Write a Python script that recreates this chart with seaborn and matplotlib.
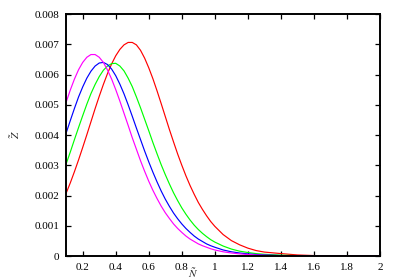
"""Four peaked curves, gnuplot-style frame."""
import numpy as np
import pandas as pd
import matplotlib
matplotlib.use("Agg")
import matplotlib.pyplot as plt
import seaborn as sns

x_vals = [0.100, 0.125, 0.150, 0.175, 0.200, 0.225, 0.250, 0.275, 0.300,
          0.325, 0.350, 0.375, 0.400, 0.425, 0.450, 0.475, 0.500, 0.525,
          0.550, 0.575, 0.600, 0.625, 0.650, 0.675, 0.700, 0.725, 0.750,
          0.775, 0.800, 0.825, 0.850, 0.875, 0.900, 0.925, 0.950, 0.975,
          1.000, 1.05, 1.10, 1.15, 1.20, 1.25, 1.30,
          1.4, 1.5, 1.6, 1.7, 1.8, 1.9, 2.0]

# curve heights, in units of 1e-3
red = [2.08, 2.42, 2.79, 3.18, 3.59, 4.01, 4.44, 4.87, 5.28, 5.67,
       6.03, 6.35, 6.62, 6.83, 6.98, 7.06, 7.06, 6.98, 6.80, 6.54,
       6.22, 5.86, 5.46, 5.04, 4.61, 4.18, 3.77, 3.37, 3.00, 2.65,
       2.33, 2.04, 1.77, 1.54, 1.33, 1.14, 0.98,
       0.71, 0.51, 0.37, 0.26, 0.18, 0.13,
       0.08, 0.035, 0.015, 0.006, 0.002, 0.001, 0.0]
green = [3.05, 3.44, 3.85, 4.25, 4.64, 5.02, 5.37, 5.67, 5.93, 6.14,
         6.28, 6.36, 6.37, 6.28, 6.12, 5.88, 5.60, 5.26, 4.90, 4.52,
         4.14, 3.75, 3.38, 3.02, 2.69, 2.38, 2.09, 1.83, 1.59, 1.38,
         1.19, 1.02, 0.875, 0.75, 0.64, 0.54, 0.46,
         0.33, 0.23, 0.16, 0.115, 0.08, 0.056,
         0.027, 0.012, 0.005, 0.002, 0.001, 0.0, 0.0]
blue = [4.07, 4.48, 4.88, 5.26, 5.59, 5.88, 6.11, 6.28, 6.38, 6.40,
        6.33, 6.18, 5.96, 5.68, 5.36, 5.00, 4.62, 4.23, 3.85, 3.47,
        3.11, 2.77, 2.45, 2.15, 1.88, 1.64, 1.42, 1.23, 1.06, 0.91,
        0.78, 0.66, 0.56, 0.48, 0.40, 0.34, 0.29,
        0.20, 0.14, 0.10, 0.07, 0.05, 0.034,
        0.016, 0.007, 0.003, 0.001, 0.0, 0.0, 0.0]
magenta = [5.09, 5.49, 5.85, 6.16, 6.40, 6.57, 6.66, 6.66, 6.57, 6.40,
           6.15, 5.85, 5.50, 5.12, 4.72, 4.32, 3.91, 3.53, 3.15, 2.80,
           2.47, 2.17, 1.90, 1.65, 1.43, 1.24, 1.06, 0.91, 0.78, 0.66,
           0.56, 0.48, 0.40, 0.34, 0.29, 0.24, 0.20,
           0.14, 0.10, 0.07, 0.049, 0.034, 0.023,
           0.01, 0.004, 0.002, 0.001, 0.0, 0.0, 0.0]

x_ticks = [0.2, 0.4, 0.6, 0.8, 1.0, 1.2, 1.4, 1.6, 1.8, 2.0]
y_ticks = [0, 0.001, 0.002, 0.003, 0.004, 0.005, 0.006, 0.007, 0.008]

series = {"red": red, "green": green, "blue": blue, "magenta": magenta}
colors = {"red": "#ff0000", "green": "#00ff00", "blue": "#0000ff",
          "magenta": "#ff00ff"}

df = pd.concat(
    [pd.DataFrame({"N": x_vals, "Z": np.array(v) * 1e-3, "curve": k})
     for k, v in series.items()],
    ignore_index=True,
)

sns.set_theme(style="ticks")
plt.rcParams["font.family"] = ["Liberation Serif", "DejaVu Serif"]
plt.rcParams["mathtext.fontset"] = "stix"

fig = plt.figure(figsize=(3.99, 2.79), dpi=100)
ax = fig.add_axes([0.1659, 0.0824, 0.7865, 0.8674])

sns.lineplot(data=df, x="N", y="Z", hue="curve", palette=colors,
             linewidth=0.85, legend=False, ax=ax, sort=False)

ax.set_xlim(0.1, 2.0)
ax.set_ylim(0, 0.008)
ax.set_xticks(x_ticks)
ax.set_yticks(y_ticks)
ax.set_xticklabels([f"{t:g}" for t in x_ticks])
ax.set_yticklabels([f"{t:g}" for t in y_ticks])
ax.tick_params(direction="in", top=True, right=True, length=3.5, width=0.9,
               labelsize=8, colors="black", pad=5)
for s in ax.spines.values():
    s.set_linewidth(1.4)
    s.set_color("black")

ax.set_xlabel(r"$\tilde{N}$", fontsize=8)
ax.xaxis.set_label_coords(0.404, -0.07)
ax.xaxis.label.set_va("center")
ax.set_ylabel(r"$\tilde{Z}$", fontsize=8)
ax.yaxis.set_label_coords(-0.163, 0.5)
ax.yaxis.label.set_va("center")

fig.savefig("out.png", dpi=100)
